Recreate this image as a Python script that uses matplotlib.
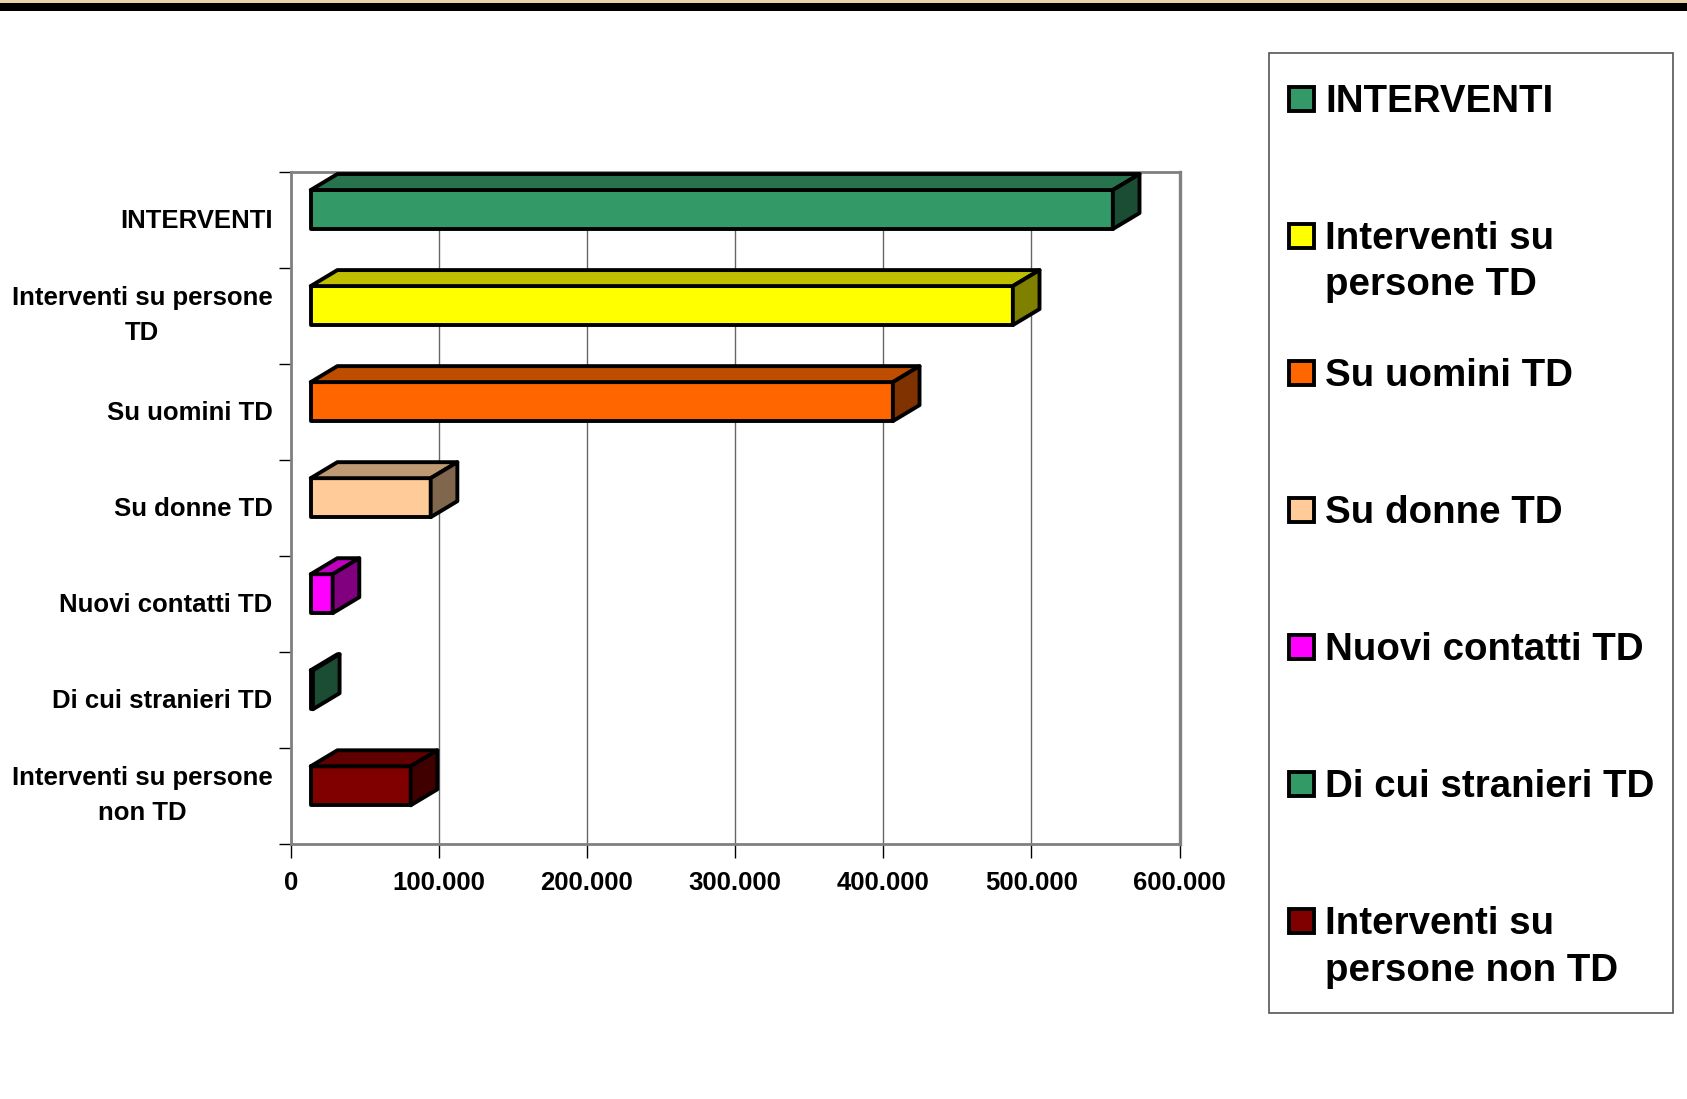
import numpy as np
import matplotlib
matplotlib.use('Agg')
import matplotlib.pyplot as plt
from matplotlib.patches import Polygon, Rectangle
from matplotlib.colors import to_rgb

plt.rcParams['font.family'] = ['Liberation Sans', 'DejaVu Sans']
plt.rcParams['font.weight'] = 'bold'

categories = ['INTERVENTI', 'Interventi su persone\nTD', 'Su uomini TD', 'Su donne TD',
              'Nuovi contatti TD', 'Di cui stranieri TD', 'Interventi su persone\nnon TD']
legend_labels = ['INTERVENTI', 'Interventi su\npersone TD', 'Su uomini TD', 'Su donne TD',
                 'Nuovi contatti TD', 'Di cui stranieri TD', 'Interventi su\npersone non TD']
values = [541500, 474000, 393000, 81000, 14800, 1500, 67500]
colors = ['#339966', '#FFFF00', '#FF6600', '#FFCC99', '#FF00FF', '#339966', '#800000']
xticks = [0, 100000, 200000, 300000, 400000, 500000, 600000]
xticklabels = ['0', '100.000', '200.000', '300.000', '400.000', '500.000', '600.000']

W, H = 1687, 1099
fig = plt.figure(figsize=(W / 100, H / 100), dpi=100)

def fx(px):
  return px / W

def fy(py):
  return 1 - py / H

# strip at the very top
fig.add_artist(Rectangle((0, fy(11)), 1, 8.3 / H, transform=fig.transFigure, color='black', lw=0))
fig.add_artist(Rectangle((0, fy(2.7)), 1, 2.7 / H, transform=fig.transFigure, color='#e9d6a8', lw=0))

ax = fig.add_axes([fx(290.7), fy(844), fx(1179.5) - fx(290.7), fy(171.7) - fy(844)])
ax.set_xlim(0, 600000)
ax.set_ylim(6.5, -0.5)

# fake 3d bars
x0 = 13500      # front face offset
dx = 18000      # depth in x
dy = 0.1666     # depth in y (category units)
h = 0.406
shift = -0.106
edge = dict(edgecolor='black', linewidth=2.8, joinstyle='round')
for i, (v, c) in enumerate(zip(values, colors)):
  rgb = np.array(to_rgb(c))
  yc = i + shift
  yt = yc - h / 2
  yb = yc + h / 2
  ax.barh(yc, v, left=x0, height=h, color=c, zorder=3, **edge)
  top = Polygon([(x0, yt), (x0 + v, yt), (x0 + v + dx, yt - dy), (x0 + dx, yt - dy)],
                closed=True, facecolor=rgb * 0.75, zorder=3, **edge)
  side = Polygon([(x0 + v, yt), (x0 + v + dx, yt - dy), (x0 + v + dx, yb - dy), (x0 + v, yb)],
                 closed=True, facecolor=rgb * 0.5, zorder=3, **edge)
  ax.add_patch(top)
  ax.add_patch(side)

ax.set_xticks(xticks)
ax.set_xticklabels(xticklabels, fontsize=18.5, fontweight='bold')
ax.set_yticks(range(len(categories)))
ax.set_yticklabels([])
# category labels drawn as text so the two-line ones can be placed properly
for i, cat in enumerate(categories):
  up = 0 if '\n' in cat else -0.8
  ax.annotate(cat, xy=(0, i), xycoords=('axes fraction', 'data'), xytext=(-13, up),
              textcoords='offset points', ha='right', va='center', multialignment='center',
              linespacing=1.58, fontsize=18.5, fontweight='bold', annotation_clip=False)
ax.set_yticks(np.arange(-0.5, len(categories)), minor=True)
ax.tick_params(axis='y', which='major', length=0)
ax.tick_params(axis='y', which='minor', length=9, width=1, color='black')
ax.tick_params(axis='x', which='major', length=10, width=1, color='black', pad=9.5)
ax.grid(axis='x', color='#666666', linewidth=1.0, zorder=0)
ax.set_axisbelow(True)
for s in ['left', 'bottom', 'top', 'right']:
  ax.spines[s].set_color('#808080')
  ax.spines[s].set_linewidth(2.0)
ax.spines['right'].set_linewidth(2.4)

# legend drawn by hand
fig.add_artist(Rectangle((fx(1269), fy(1013.3)), fx(1672.7) - fx(1269), fy(53.3) - fy(1013.3),
                         transform=fig.transFigure, facecolor='white', edgecolor='#555555', lw=1.2))
step = 137.05
for i, (lab, c) in enumerate(zip(legend_labels, colors)):
  off = i * step
  fig.add_artist(Rectangle((fx(1289.3), fy(110.7 + off)), fx(1314.0) - fx(1289.3), fy(87.0) - fy(110.7),
                           transform=fig.transFigure, facecolor=c, edgecolor='black', lw=2.8))
  for k, line in enumerate(lab.split('\n')):
    fig.text(fx(1325), fy(111.7 + off + k * 46.7), line, fontsize=27.7, fontweight='bold',
             ha='left', va='baseline')

fig.savefig('out.png', dpi=100)
